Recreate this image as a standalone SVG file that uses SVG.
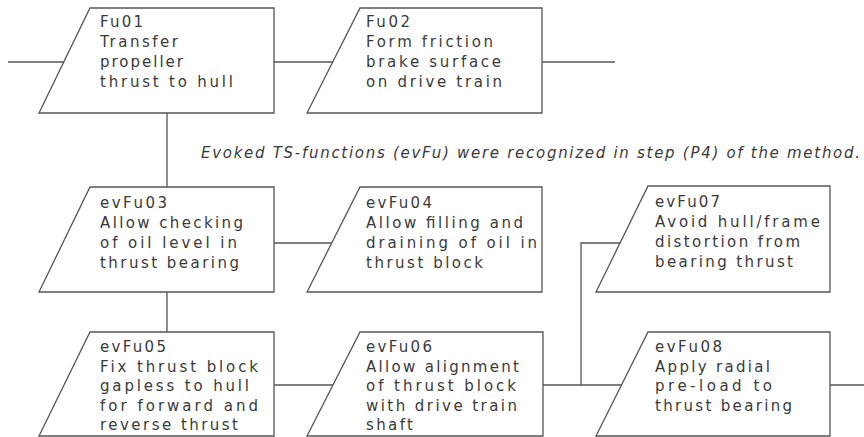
<svg xmlns="http://www.w3.org/2000/svg" width="864" height="437" viewBox="0 0 864 437">
<style>
.bg{fill:#fff}
.ln{fill:none;stroke:#555;stroke-width:1.3}
.nd{fill:#fff;stroke:#555;stroke-width:1.3}
.t{font-family:"DejaVu Sans","Liberation Sans",sans-serif;font-size:15px;fill:#3a3a3a}
.an{font-family:"DejaVu Sans","Liberation Sans",sans-serif;font-size:15px;font-style:italic;fill:#3a3a3a}
</style>
<rect class="bg" x="0" y="0" width="864" height="437"/>
<g id="connectors">
<line class="ln" x1="8" y1="62" x2="70" y2="62"/>
<line class="ln" x1="274" y1="62" x2="340" y2="62"/>
<line class="ln" x1="542" y1="62" x2="615" y2="62"/>
<line class="ln" x1="167" y1="113" x2="167" y2="187"/>
<line class="ln" x1="274" y1="243" x2="340" y2="243"/>
<line class="ln" x1="167" y1="292" x2="167" y2="332"/>
<line class="ln" x1="274" y1="385" x2="340" y2="385"/>
<line class="ln" x1="543" y1="385" x2="625" y2="385"/>
<polyline class="ln" points="625,243 581,243 581,385"/>
<line class="ln" x1="830" y1="385" x2="864" y2="385"/>
</g>
<text class="an" x="201" y="158" textLength="659" lengthAdjust="spacing">Evoked TS-functions (evFu) were recognized in step (P4) of the method.</text>
<g id="Fu01">
<polygon class="nd" points="90,8 274,8 274,113 39,113"/>
<text class="t" x="100" y="27" textLength="43" lengthAdjust="spacing">Fu01</text>
<text class="t" x="100" y="47" textLength="78" lengthAdjust="spacing">Transfer</text>
<text class="t" x="100" y="67" textLength="83" lengthAdjust="spacing">propeller</text>
<text class="t" x="100" y="87" textLength="133" lengthAdjust="spacing">thrust to hull</text>
</g>
<g id="Fu02">
<polygon class="nd" points="360,8 542,8 542,113 307,113"/>
<text class="t" x="366" y="27" textLength="44" lengthAdjust="spacing">Fu02</text>
<text class="t" x="366" y="47" textLength="127" lengthAdjust="spacing">Form friction</text>
<text class="t" x="366" y="67" textLength="135" lengthAdjust="spacing">brake surface</text>
<text class="t" x="366" y="87" textLength="136" lengthAdjust="spacing">on drive train</text>
</g>
<g id="evFu03">
<polygon class="nd" points="90,187 274,187 274,292 39,292"/>
<text class="t" x="100" y="208" textLength="67" lengthAdjust="spacing">evFu03</text>
<text class="t" x="100" y="228" textLength="143" lengthAdjust="spacing">Allow checking</text>
<text class="t" x="100" y="248" textLength="137" lengthAdjust="spacing">of oil level in</text>
<text class="t" x="100" y="268" textLength="139" lengthAdjust="spacing">thrust bearing</text>
</g>
<g id="evFu04">
<polygon class="nd" points="360,187 542,187 542,292 307,292"/>
<text class="t" x="366" y="208" textLength="66" lengthAdjust="spacing">evFu04</text>
<text class="t" x="366" y="228" textLength="157" lengthAdjust="spacing">Allow filling and</text>
<text class="t" x="366" y="248" textLength="171" lengthAdjust="spacing">draining of oil in</text>
<text class="t" x="366" y="268" textLength="117" lengthAdjust="spacing">thrust block</text>
</g>
<g id="evFu07">
<polygon class="nd" points="648,186 830,186 830,292 596,292"/>
<text class="t" x="655" y="207" textLength="65" lengthAdjust="spacing">evFu07</text>
<text class="t" x="655" y="227" textLength="165" lengthAdjust="spacing">Avoid hull/frame</text>
<text class="t" x="655" y="247" textLength="145" lengthAdjust="spacing">distortion from</text>
<text class="t" x="655" y="267" textLength="138" lengthAdjust="spacing">bearing thrust</text>
</g>
<g id="evFu05">
<polygon class="nd" points="90,332 274,332 274,436 39,436"/>
<text class="t" x="100" y="352" textLength="66" lengthAdjust="spacing">evFu05</text>
<text class="t" x="100" y="371.5" textLength="158" lengthAdjust="spacing">Fix thrust block</text>
<text class="t" x="100" y="391" textLength="149" lengthAdjust="spacing">gapless to hull</text>
<text class="t" x="100" y="410.5" textLength="158" lengthAdjust="spacing">for forward and</text>
<text class="t" x="100" y="430" textLength="138" lengthAdjust="spacing">reverse thrust</text>
</g>
<g id="evFu06">
<polygon class="nd" points="360,332 543,332 543,436 307,436"/>
<text class="t" x="366" y="352" textLength="66" lengthAdjust="spacing">evFu06</text>
<text class="t" x="366" y="371.5" textLength="153" lengthAdjust="spacing">Allow alignment</text>
<text class="t" x="366" y="391" textLength="150" lengthAdjust="spacing">of thrust block</text>
<text class="t" x="366" y="410.5" textLength="151" lengthAdjust="spacing">with drive train</text>
<text class="t" x="366" y="430" textLength="47" lengthAdjust="spacing">shaft</text>
</g>
<g id="evFu08">
<polygon class="nd" points="648,332 830,332 830,436 596,436"/>
<text class="t" x="655" y="352" textLength="67" lengthAdjust="spacing">evFu08</text>
<text class="t" x="655" y="371.5" textLength="115" lengthAdjust="spacing">Apply radial</text>
<text class="t" x="655" y="391" textLength="117" lengthAdjust="spacing">pre-load to</text>
<text class="t" x="655" y="410.5" textLength="137" lengthAdjust="spacing">thrust bearing</text>
</g>
</svg>
